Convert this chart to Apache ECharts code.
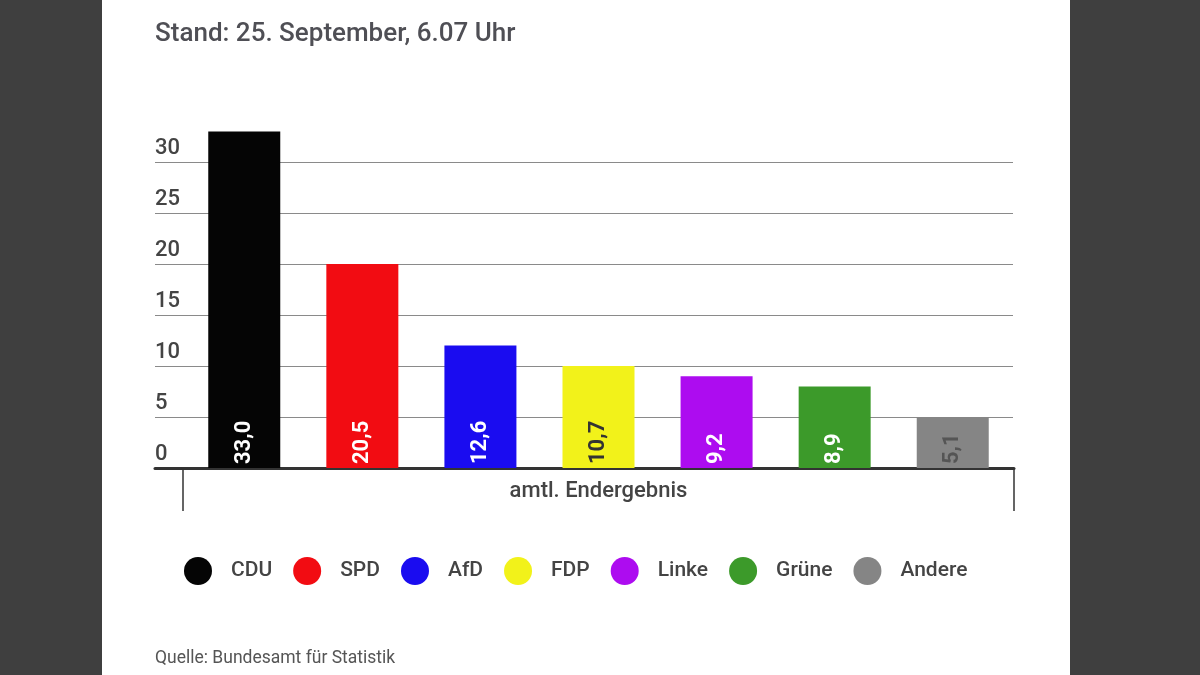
<!DOCTYPE html>
<html>
<head>
<meta charset="utf-8">
<script src="https://cdn.jsdelivr.net/npm/echarts@6/dist/echarts.min.js"></script>
<style>
html,body{margin:0;padding:0;background:#3f3f3f;}
#chart{width:1200px;height:675px;}
</style>
</head>
<body>
<div id="chart"></div>
<script>
const titleText = 'Stand: 25. September, 6.07 Uhr';
const sourceText = 'Quelle: Bundesamt für Statistik';
const categories = ['amtl. Endergebnis'];
const parties = ['CDU', 'SPD', 'AfD', 'FDP', 'Linke', 'Grüne', 'Andere'];
const barValues = [33, 20, 12, 10, 9, 8, 5];
const valueLabels = ['33,0', '20,5', '12,6', '10,7', '9,2', '8,9', '5,1'];
const partyColors = ['#050505', '#f20c12', '#1a0cf0', '#f2f21a', '#ad0cf0', '#3c9a2a', '#858585'];
const labelColors = ['#ffffff', '#ffffff', '#ffffff', '#333333', '#ffffff', '#ffffff', '#555555'];
const yTicks = [0, 5, 10, 15, 20, 25, 30];

const FONT = 'Roboto, "Noto Sans", sans-serif';
const chart = echarts.init(document.getElementById('chart'), null, {renderer: 'canvas'});

const series = parties.map((p, i) => ({
  name: p,
  type: 'bar',
  xAxisIndex: 1,
  yAxisIndex: 1,
  barWidth: 72,
  barGap: '64%',
  clip: false,
  itemStyle: {color: partyColors[i]},
  label: {
    show: true,
    position: 'insideBottom',
    rotate: 90,
    align: 'left',
    verticalAlign: 'middle',
    distance: 4,
    color: labelColors[i],
    fontFamily: FONT,
    fontWeight: 'bold',
    fontSize: 22,
    formatter: () => valueLabels[i]
  },
  data: [barValues[i]]
}));

chart.setOption({
  backgroundColor: 'transparent',
  animation: false,
  graphic: [
    {type: 'rect', left: 102, top: 0, z: -10, shape: {width: 968, height: 675}, style: {fill: '#ffffff'}},
    {type: 'text', left: 155, top: 21, style: {text: titleText, font: '500 26px ' + FONT, fill: '#4f4f55'}},
    {type: 'text', left: 155, top: 650, style: {text: sourceText, font: '17.5px ' + FONT, fill: '#555555'}}
  ],
  legend: {
    left: 179,
    top: 552,
    icon: 'circle',
    itemWidth: 28,
    itemHeight: 28,
    itemGap: 21,
    textStyle: {fontFamily: FONT, fontSize: 21, fontWeight: 500, color: '#444444', padding: [0, 0, 0, 14]},
    data: parties
  },
  grid: [
    {left: 155, right: 187, top: 162, bottom: 207},
    {left: 183, right: 186, top: 162, bottom: 207}
  ],
  xAxis: [
    {
      gridIndex: 0, type: 'value', min: 0, max: 1,
      axisLine: {show: true, onZero: false, lineStyle: {color: '#333333', width: 3}},
      axisTick: {show: false}, axisLabel: {show: false}, splitLine: {show: false}
    },
    {
      gridIndex: 1, type: 'category', data: categories,
      axisLine: {show: true, lineStyle: {color: '#333333', width: 3}},
      axisTick: {show: true, length: 43, lineStyle: {color: '#333333', width: 1.5}},
      axisLabel: {fontFamily: FONT, fontSize: 22, fontWeight: 500, color: '#444444', margin: 12},
      splitLine: {show: false}
    }
  ],
  yAxis: [
    {
      gridIndex: 0, type: 'value', min: 0, max: 30, interval: 5,
      axisLine: {show: false}, axisTick: {show: false},
      axisLabel: {
        inside: true, margin: 0, align: 'left', verticalAlign: 'bottom',
        padding: [0, 0, 3, 0],
        fontFamily: FONT, fontSize: 22, fontWeight: 500, color: '#444444',
        formatter: v => yTicks.includes(v) ? String(v) : ''
      },
      splitLine: {show: true, lineStyle: {color: '#8a8a8a', width: 1}}
    },
    {
      gridIndex: 1, type: 'value', min: 0, max: 30, interval: 5,
      show: false, splitLine: {show: false}
    }
  ],
  series: series
});
</script>
</body>
</html>
